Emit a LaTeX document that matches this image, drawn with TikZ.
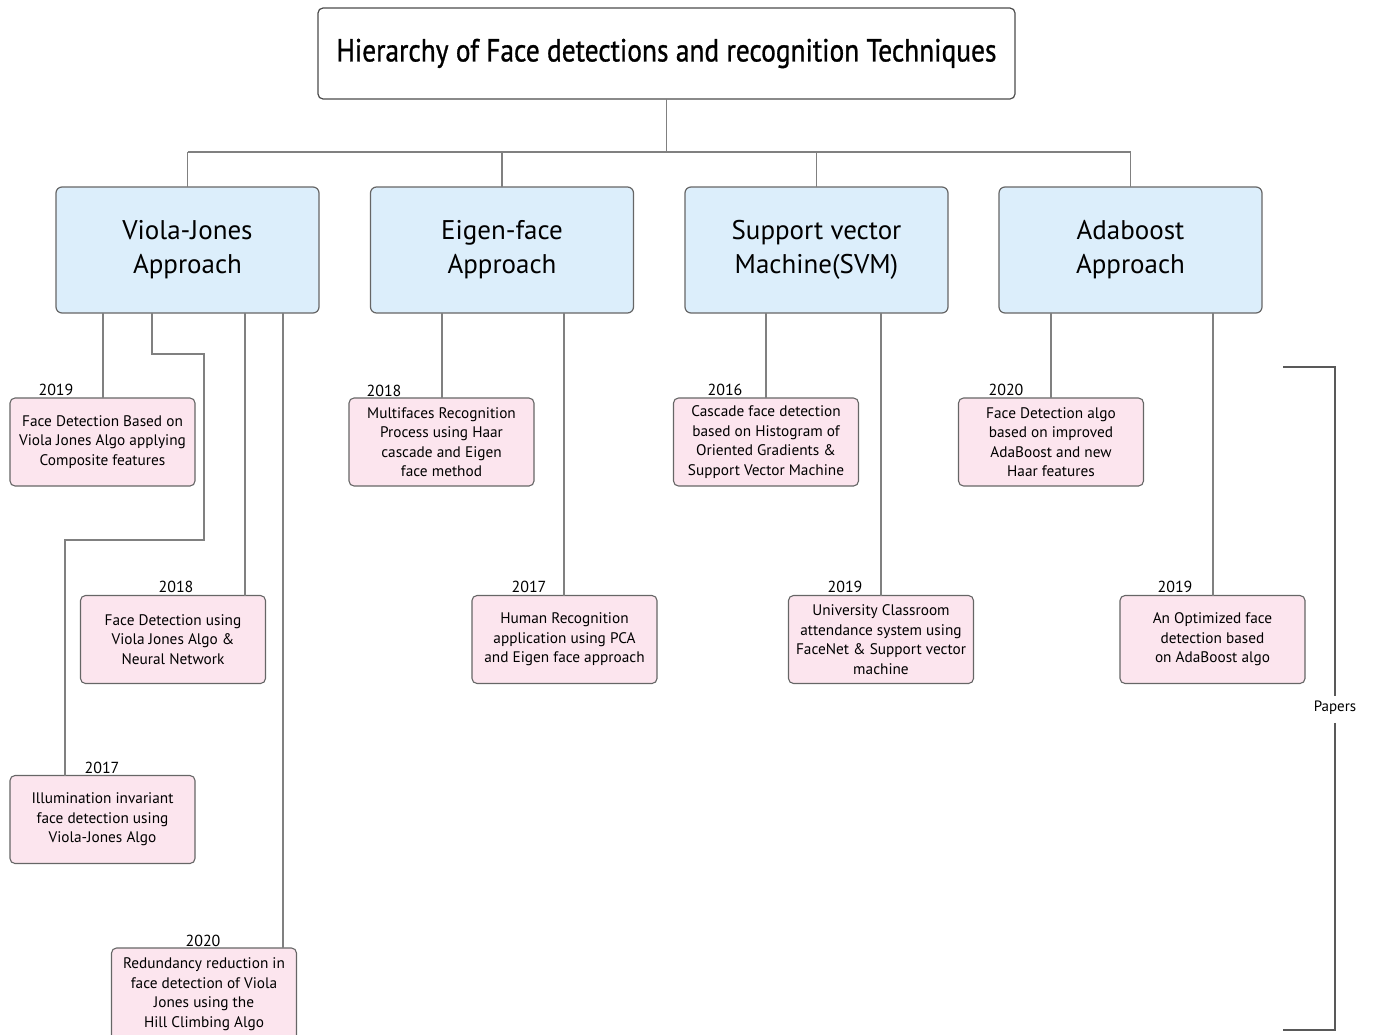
\documentclass[tikz,border=0pt]{standalone}
\usepackage{fontspec}
\setmainfont{PT Sans}
\newfontfamily\titlefont[FakeBold=1.0]{PT Sans}
\usepackage{graphicx}
\begin{document}
\begin{tikzpicture}[x=1pt,y=-1pt,
  every node/.style={inner sep=0pt,outer sep=0pt},
  titlebox/.style={draw=black!70,line width=1.2pt,rounded corners=5pt,fill=white,minimum width=697pt,minimum height=91pt},
  catbox/.style={draw=black!60,line width=1.2pt,rounded corners=6pt,minimum width=263pt,minimum height=126pt,align=center,font=\fontsize{27}{34}\selectfont},
  paperbox/.style={draw=black!60,line width=1.1pt,rounded corners=5pt,minimum width=185pt,minimum height=88pt,align=center,font=\fontsize{15.3}{19.5}\selectfont},
  yearlbl/.style={anchor=south,font=\fontsize{16}{16}\selectfont},
  conn/.style={draw=black!50,line width=1.1pt},
  ]
\definecolor{catfill}{HTML}{DCEEFB}
\definecolor{papfill}{HTML}{FCE5EE}
\useasboundingbox (0,0) rectangle (1374,1034);

\node[titlebox] (title) at (666.5,53.5) {\titlefont\fontsize{32}{32}\selectfont\resizebox{660pt}{\height}{Hierarchy of Face detections and recognition Techniques}};

\node[catbox,fill=catfill] (vj) at (187.5,250) {Viola-Jones\\Approach};
\node[catbox,fill=catfill] (ef) at (502,250) {Eigen-face\\Approach};
\node[catbox,fill=catfill] (svm) at (816.5,250) {Support vector\\Machine(SVM)};
\node[catbox,fill=catfill] (ada) at (1130.5,250) {Adaboost\\Approach};

\node[paperbox,fill=papfill] (p1) at (102.5,442) {Face Detection Based on\\Viola Jones Algo applying\\Composite features};
\node[paperbox,fill=papfill] (p2) at (173,639.5) {Face Detection using\\Viola Jones Algo \&\\Neural Network};
\node[paperbox,fill=papfill] (p3) at (102.5,819.5) {Illumination invariant\\face detection using\\Viola-Jones Algo};
\node[paperbox,fill=papfill,minimum height=92pt] (p4) at (204,994) {Redundancy reduction in\\face detection of Viola\\Jones using the\\Hill Climbing Algo};
\node[paperbox,fill=papfill] (e1) at (441.5,442) {Multifaces Recognition\\Process using Haar\\cascade and Eigen\\face method};
\node[paperbox,fill=papfill] (e2) at (564.5,639.5) {Human Recognition\\application using PCA\\and Eigen face approach};
\node[paperbox,fill=papfill] (s1) at (766,442) {Cascade face detection\\based on Histogram of\\Oriented Gradients \&\\Support Vector Machine};
\node[paperbox,fill=papfill] (s2) at (881,639.5) {University Classroom\\attendance system using\\FaceNet \& Support vector\\machine};
\node[paperbox,fill=papfill] (a1) at (1051,442) {Face Detection algo\\based on improved\\AdaBoost and new\\Haar features};
\node[paperbox,fill=papfill] (a2) at (1212.5,639.5) {An Optimized face\\detection based\\on AdaBoost algo};

% years
\node[yearlbl] (y1) at (56,396) {2019};
\node[yearlbl] (y2) at (176,593) {2018};
\node[yearlbl] (y3) at (102,774) {2017};
\node[yearlbl] (y4) at (203,947) {2020};
\node[yearlbl] (y5) at (384,397) {2018};
\node[yearlbl] (y6) at (529,593) {2017};
\node[yearlbl] (y7) at (725,396) {2016};
\node[yearlbl] (y8) at (845,593) {2019};
\node[yearlbl] (y9) at (1006,396) {2020};
\node[yearlbl] (y10) at (1175,593) {2019};

% column coordinates
\coordinate (bus) at (0,152);
\coordinate (c103) at (103,0);
\coordinate (c152) at (152,0);
\coordinate (c245) at (245,0);
\coordinate (c283) at (283,0);
\coordinate (c442) at (442,0);
\coordinate (c564) at (564,0);
\coordinate (c766) at (766,0);
\coordinate (c881) at (881,0);
\coordinate (c1051) at (1051,0);
\coordinate (c1213) at (1213,0);
\coordinate (k1) at (204,354);
\coordinate (k2) at (65,540);

% tree
\draw[conn] (title.south) -- (title.south |- bus);
\draw[conn] (vj.north |- bus) -- (ada.north |- bus);
\draw[conn] (vj.north |- bus) -- (vj.north);
\draw[conn] (ef.north |- bus) -- (ef.north);
\draw[conn] (svm.north |- bus) -- (svm.north);
\draw[conn] (ada.north |- bus) -- (ada.north);

% Viola-Jones papers
\draw[conn] (vj.south -| c103) -- (p1.north -| c103);
\draw[conn] (vj.south -| c152) -- (c152 |- k1) -- (k1) -- (k1 |- k2) -- (k2) -- (k2 |- p3.north);
\draw[conn] (vj.south -| c245) -- (p2.north -| c245);
\draw[conn] (vj.south -| c283) -- (p4.north -| c283);
% Eigen
\draw[conn] (ef.south -| c442) -- (e1.north -| c442);
\draw[conn] (ef.south -| c564) -- (e2.north -| c564);
% SVM
\draw[conn] (svm.south -| c766) -- (s1.north -| c766);
\draw[conn] (svm.south -| c881) -- (s2.north -| c881);
% Adaboost
\draw[conn] (ada.south -| c1051) -- (a1.north -| c1051);
\draw[conn] (ada.south -| c1213) -- (a2.north -| c1213);

% Papers bracket
\node[font=\fontsize{15}{15}\selectfont] (papers) at (1335,708) {Papers};
\coordinate (bt) at (1283,367);
\coordinate (bb) at (1283,1030);
\draw[conn,draw=black!65] (bt) -- (bt -| papers) -- ([yshift=5pt]papers.north);
\draw[conn,draw=black!65] ([yshift=-8pt]papers.south) -- (bb -| papers) -- (bb);
\end{tikzpicture}
\end{document}
